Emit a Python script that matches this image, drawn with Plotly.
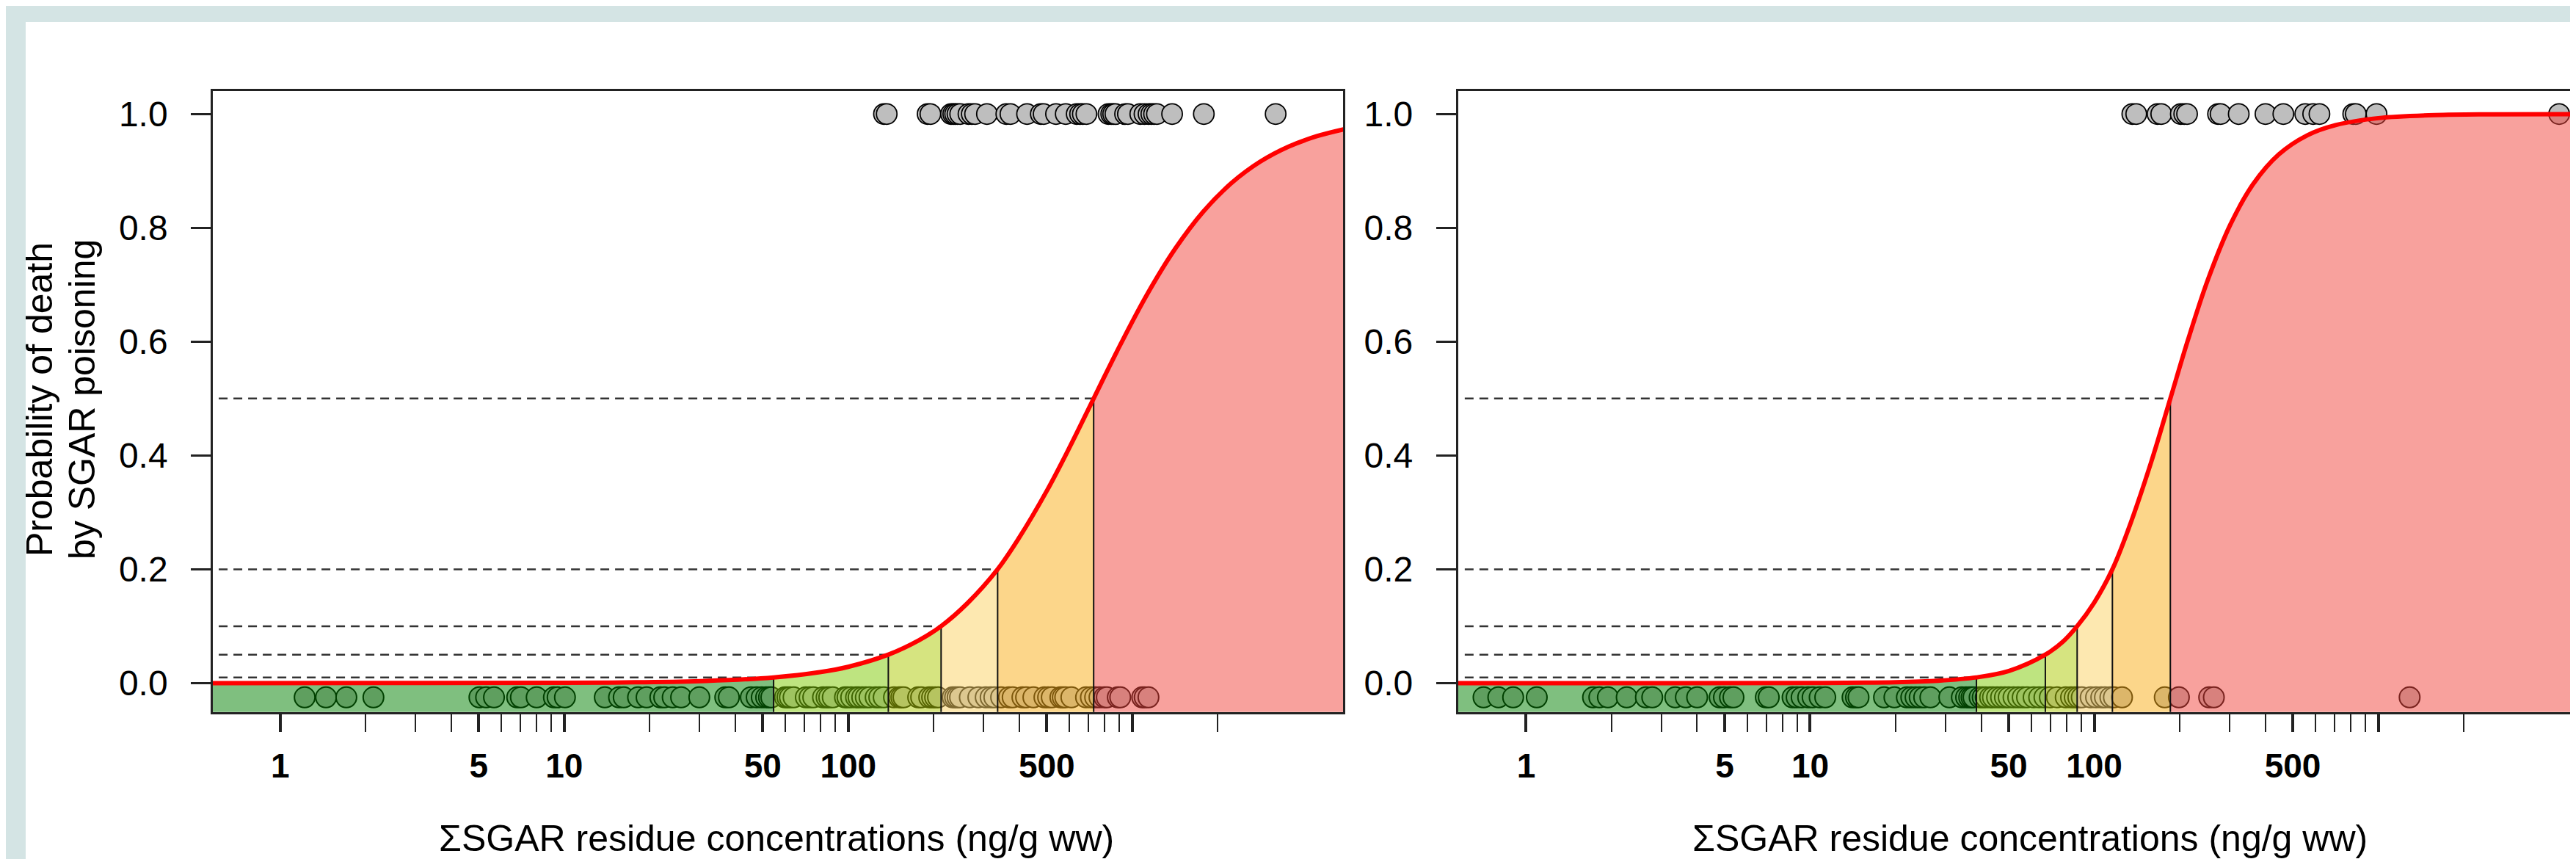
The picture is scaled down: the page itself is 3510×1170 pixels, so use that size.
import plotly.graph_objects as go
import numpy as np

# ---------------- data ----------------
THRESH_P = [0.01, 0.05, 0.10, 0.20, 0.50]

LEFT_CURVE_X = [0.575, 3.16, 10, 17.8, 31.6, 54.6, 79.4, 100, 138.4, 177.8, 212.3, 263, 335.7,
                398.1, 501.2, 602.6, 731.1, 891.3, 1122, 1413, 1778, 2239, 2818, 3548, 4467, 5623]
LEFT_CURVE_P = [0.0, 0.0001, 0.0005, 0.0014, 0.0038, 0.01, 0.0192, 0.0286, 0.05, 0.0755, 0.10, 0.1405,
                0.20, 0.2541, 0.3387, 0.4151, 0.5, 0.5869, 0.6811, 0.7626, 0.8285, 0.8790, 0.9161,
                0.9426, 0.9611, 0.9738]
LEFT_THRESH_X = [54.6, 138.4, 212.3, 335.7, 731.1]

RIGHT_CURVE_X = [0.575, 3.16, 10, 20, 28.2, 38.5, 50.1, 67.3, 77.6, 87.1, 100, 115.9, 131.8, 158.5,
                 185.4, 213.8, 251.2, 302, 363.1, 446.7, 562.3, 707.9, 1000, 1585, 2512, 5623]
RIGHT_CURVE_P = [0.0, 0.0, 0.0002, 0.0015, 0.0041, 0.01, 0.0214, 0.05, 0.0728, 0.10, 0.1414, 0.20,
                 0.2697, 0.3875, 0.5, 0.6028, 0.7085, 0.8064, 0.8771, 0.9290, 0.9625, 0.9805, 0.9928,
                 0.9981, 0.9995, 1.0]
RIGHT_THRESH_X = [38.5, 67.3, 87.1, 115.9, 185.4]

LEFT_SURVIVED = [1.22, 1.45, 1.71, 2.13, 5.03, 5.31, 5.66, 6.83, 7.04, 8.0, 9.2, 9.48, 10.06, 13.9,
                 15.6, 16.2, 18.2, 19.5, 21.8, 22.5, 24.1, 25.8, 29.9, 36.9, 38.0, 45.4, 47.6, 49.6,
                 51.4, 52.6, 53.6, 59.9, 61.1, 62.3, 64.2, 70.9, 73.1, 75.3, 81.5, 83.9, 85.7, 88.2,
                 97.4, 99.4, 102.4, 106.5, 108.7, 112.0, 115.3, 118.8, 124.9, 128.6, 133.3, 144.9,
                 151.1, 153.8, 156.5, 176.3, 180.6, 192.8, 197.4, 202.2, 207.0, 233.2, 237.8, 242.7,
                 247.5, 267.9, 287.1, 304.8, 317.2, 326.8, 345.3, 368.1, 379.2, 410.4, 422.8, 448.6,
                 490.6, 505.4, 520.6, 558.3, 569.3, 580.6, 610.3, 687.4, 715.0, 740, 766.3, 797.5,
                 813.3, 889.3, 907.0, 1084, 1106, 1140]
LEFT_DEAD = [133.6, 136.6, 190.3, 194.6, 230.1, 234.3, 237.9, 242.4, 247.8, 265.0, 272.2, 279.6,
             307.8, 360.2, 372.4, 426.1, 476.4, 487.4, 538.9, 583.1, 637.3, 655.0, 669.6, 689.4,
             824.5, 843.4, 856.6, 872.1, 943.3, 964.9, 1067, 1104, 1141, 1167, 1193, 1221, 1381,
             1786, 3197]

RIGHT_SURVIVED = [0.708, 0.798, 0.90, 1.09, 1.72, 1.81, 1.94, 2.26, 2.64, 2.78, 3.35, 3.65, 4.0,
                  4.8, 4.97, 5.22, 5.37, 6.98, 7.15, 8.67, 8.96, 9.33, 9.84, 10.2, 10.8, 11.3, 14.1,
                  14.5, 14.8, 18.2, 19.8, 21.9, 22.7, 23.5, 24.3, 25.2, 26.5, 30.9, 34.2, 35.4, 36.3,
                  37.0, 37.6, 39.5, 40.5, 41.5, 43, 44, 45.5, 47, 48.5, 50, 52, 54, 56, 58, 61.2,
                  64.0, 66.8, 69.8, 73.9, 79.4, 82.9, 85.4, 87.9, 90.4, 97.2, 101.5, 105.9, 109.1,
                  114.0, 117.3, 125.3, 177.2, 198.7, 254, 263.8, 1290]
RIGHT_DEAD = [136.2, 140.6, 167.1, 172.2, 201.8, 207.5, 212.3, 272.9, 278.6, 322.8, 400.9, 463.4,
              553.4, 590.2, 620.9, 816.6, 833.7, 986.2, 4335]

OUTCOME_Y_DEAD = 1.0
OUTCOME_Y_SURVIVED = -0.025

X_MAJOR_TICKS = [1, 5, 10, 50, 100, 500, 1000]
X_MAJOR_LABELS = ["1", "5", "10", "50", "100", "500", ""]
X_MINOR_TICKS = [2, 3, 4, 6, 7, 8, 9, 20, 30, 40, 60, 70, 80, 90, 200, 300, 400, 600, 700, 800, 900, 2000]
Y_TICKS = [0.0, 0.2, 0.4, 0.6, 0.8, 1.0]

X_TITLE = "ΣSGAR residue concentrations (ng/g ww)"
Y_TITLE_LINES = ["Probability of death", "by SGAR poisoning"]

# ---------------- styling ----------------
W, H = 3510, 1170
FONT = "Arial, Liberation Sans, sans-serif"
ZONE_COLORS = ["rgba(0,128,0,0.5)", "rgba(125,201,1,0.5)", "rgba(173,201,1,0.5)",
               "rgba(251,209,97,0.5)", "rgba(249,173,21,0.5)", "rgba(241,67,59,0.5)"]
YMIN, YMAX = -0.0507, 1.0409
BASE = -0.08

fig = go.Figure()


def add_panel(xa, ya, curve_x, curve_p, thresh_x, surv, dead):
    # points first (the zones are laid over them)
    fig.add_trace(go.Scatter(x=surv, y=[OUTCOME_Y_SURVIVED] * len(surv), mode="markers",
                             marker=dict(size=28, color="#BEBEBE", line=dict(color="black", width=2)),
                             xaxis=xa, yaxis=ya, hoverinfo="skip", cliponaxis=False))
    fig.add_trace(go.Scatter(x=dead, y=[OUTCOME_Y_DEAD] * len(dead), mode="markers",
                             marker=dict(size=28, color="#BEBEBE", line=dict(color="black", width=1.8)),
                             xaxis=xa, yaxis=ya, hoverinfo="skip", cliponaxis=False))
    bounds = [curve_x[0]] + list(thresh_x) + [curve_x[-1]]
    for i in range(len(bounds) - 1):
        a, b = bounds[i], bounds[i + 1]
        seg = [(x, p) for x, p in zip(curve_x, curve_p) if a - 1e-9 <= x <= b + 1e-9]
        fig.add_trace(go.Scatter(x=[a, b], y=[BASE, BASE], mode="lines", line=dict(width=0),
                                 xaxis=xa, yaxis=ya, hoverinfo="skip"))
        fig.add_trace(go.Scatter(x=[s[0] for s in seg], y=[s[1] for s in seg], mode="lines",
                                 line=dict(width=0, shape="spline"), fill="tonexty",
                                 fillcolor=ZONE_COLORS[i], xaxis=xa, yaxis=ya, hoverinfo="skip"))
    # vertical threshold lines
    for tx, tp in zip(thresh_x, THRESH_P):
        fig.add_trace(go.Scatter(x=[tx, tx], y=[BASE, tp], mode="lines",
                                 line=dict(color="#111111", width=2), xaxis=xa, yaxis=ya, hoverinfo="skip"))
    # dashed horizontal lines
    for tx, tp in zip(thresh_x, THRESH_P):
        fig.add_trace(go.Scatter(x=[0.608, tx], y=[tp, tp], mode="lines",
                                 line=dict(color="#333333", width=2.5, dash="12px,8px"),
                                 xaxis=xa, yaxis=ya, hoverinfo="skip"))
    # fitted curve
    fig.add_trace(go.Scatter(x=curve_x, y=curve_p, mode="lines",
                             line=dict(color="#FF0000", width=6, shape="spline"),
                             xaxis=xa, yaxis=ya, hoverinfo="skip"))


add_panel("x", "y", LEFT_CURVE_X, LEFT_CURVE_P, LEFT_THRESH_X, LEFT_SURVIVED, LEFT_DEAD)
add_panel("x2", "y2", RIGHT_CURVE_X, RIGHT_CURVE_P, RIGHT_THRESH_X, RIGHT_SURVIVED, RIGHT_DEAD)

px = lambda v: v / W
py = lambda v: 1 - v / H

xcommon = dict(type="log", showgrid=False, zeroline=False, showline=True, linecolor="#222222",
               linewidth=2.5, ticks="outside", ticklen=25, tickwidth=4, tickcolor="#222222",
               tickmode="array", tickvals=X_MAJOR_TICKS,
               ticktext=["<b>%s</b>" % t if t else "" for t in X_MAJOR_LABELS],
               tickfont=dict(family=FONT, size=46, color="black"), ticklabelstandoff=6,
               minor=dict(tickmode="array", tickvals=X_MINOR_TICKS, ticks="outside", ticklen=25,
                          tickwidth=2, tickcolor="#222222"))
ycommon = dict(range=[YMIN, YMAX], showgrid=False, zeroline=False, showline=True, linecolor="#222222",
               linewidth=2.5, ticks="outside", ticklen=27, tickwidth=3, tickcolor="#222222",
               tickmode="array", tickvals=Y_TICKS, ticktext=["%.1f" % v for v in Y_TICKS],
               tickfont=dict(family=FONT, size=48, color="black"), ticklabelstandoff=22)

title_font = dict(family=FONT, size=50, color="black")
fig.update_layout(
    width=W, height=H, margin=dict(l=0, r=0, t=0, b=0),
    paper_bgcolor="#D4E4E4", plot_bgcolor="white", showlegend=False,
    xaxis=dict(domain=[px(282), px(1822)], range=[-0.237, 3.742], anchor="y", mirror=True, **xcommon),
    yaxis=dict(domain=[py(961.7), py(115.6)], anchor="x", mirror=True, **ycommon),
    xaxis2=dict(domain=[px(1978.6), 1.0], range=[-0.240, 3.717], anchor="y2", mirror=True, **xcommon),
    yaxis2=dict(domain=[py(961.7), py(115.6)], anchor="x2", mirror=False, **ycommon),
    shapes=[dict(type="rect", xref="paper", yref="paper", x0=px(27), x1=1.0, y0=0, y1=py(22),
                 fillcolor="white", line=dict(width=0), layer="below")],
    annotations=[
        dict(text=Y_TITLE_LINES[0], textangle=-90, xref="paper", yref="paper", x=px(46), y=py(536),
             showarrow=False, font=title_font, xanchor="center", yanchor="middle"),
        dict(text=Y_TITLE_LINES[1], textangle=-90, xref="paper", yref="paper", x=px(104), y=py(536),
             showarrow=False, font=title_font, xanchor="center", yanchor="middle"),
        dict(text=X_TITLE, xref="paper", yref="paper", x=px(1050), y=py(1134), showarrow=False,
             font=title_font, xanchor="center", yanchor="middle"),
        dict(text=X_TITLE, xref="paper", yref="paper", x=px(2758), y=py(1134), showarrow=False,
             font=title_font, xanchor="center", yanchor="middle"),
    ],
)

fig.write_html("out.html")
